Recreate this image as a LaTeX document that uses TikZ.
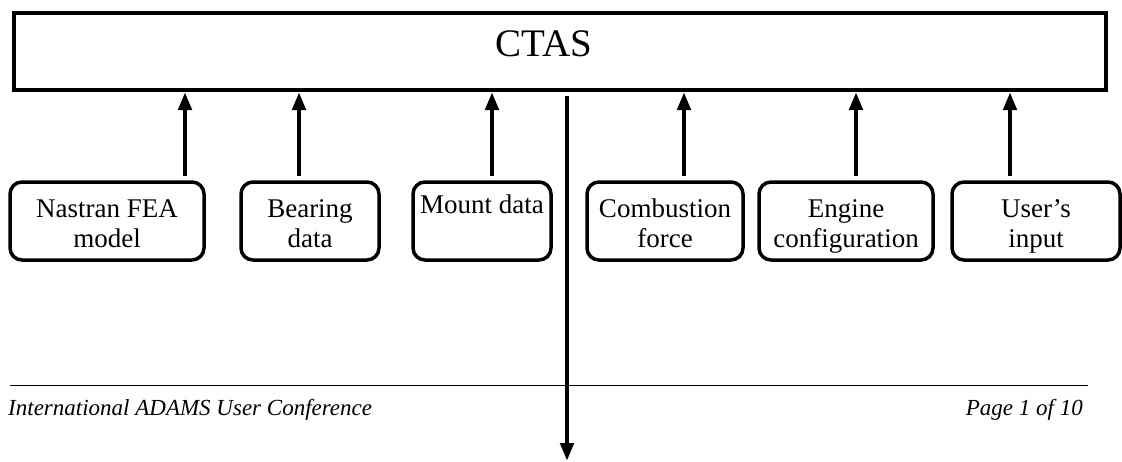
\documentclass[tikz,border=0pt]{standalone}
\usepackage{fontspec}
\setmainfont{Liberation Serif}
\usetikzlibrary{arrows.meta}
\tikzset{
  inbox/.style={draw, line width=3.5pt, rounded corners=12pt, inner sep=0pt,
    minimum height=78pt, text height=65pt, text depth=13pt, align=center,
    font=\fontsize{27}{30}\selectfont},
  arr/.style={line width=4.5pt, -{Triangle[width=13pt,length=18pt]}},
  foot/.style={font=\fontsize{23}{26}\selectfont\itshape, inner sep=0pt}
}
\begin{document}
\begin{tikzpicture}[x=1pt,y=-1pt]
\useasboundingbox (0,0) rectangle (1122,461);
% main box
\node (ctas) [draw, line width=4pt, minimum width=1092pt, minimum height=77pt,
  inner sep=0pt, text depth=16pt, font=\fontsize{39}{42}\selectfont]
  at (560,51.5) {CTAS\hspace*{32pt}};
% input boxes
\node (b1) [inbox, minimum width=194pt] at (107,221) {Nastran FEA\\model};
\node (b2) [inbox, minimum width=138pt] at (310,221) {Bearing\\data};
\node (b3) [inbox, minimum width=138pt, text height=31pt, text depth=47pt] at (482,221) {Mount data};
\node (b4) [inbox, minimum width=156pt] at (665,221) {Combustion\\force};
\node (b5) [inbox, minimum width=174pt] at (846,221) {Engine\\configuration};
\node (b6) [inbox, minimum width=168pt] at (1036,221) {User’s\\input};
% arrow start points
\coordinate (a1) at (185,176);
\coordinate (a2) at (299,176);
\coordinate (a3) at (492,176);
\coordinate (a4) at (684,176);
\coordinate (a5) at (856,176);
\coordinate (a6) at (1010,176);
\foreach \i in {1,...,6}{
  \draw[arr] (a\i) -- (a\i |- ctas.south);
}
% output arrow
\coordinate (o1) at (567,96);
\coordinate (o2) at (567,461);
\draw[arr] (o1) -- (o2);
% footer
\coordinate (f1) at (10,385);
\coordinate (f2) at (1088,385);
\draw[line width=0.9pt] (f1) -- (f2);
\node (fl) [foot, anchor=base west] at (8,415) {International ADAMS User Conference};
\node (fr) [foot, anchor=base east] at (1083,415) {Page 1 of 10};
\end{tikzpicture}
\end{document}
